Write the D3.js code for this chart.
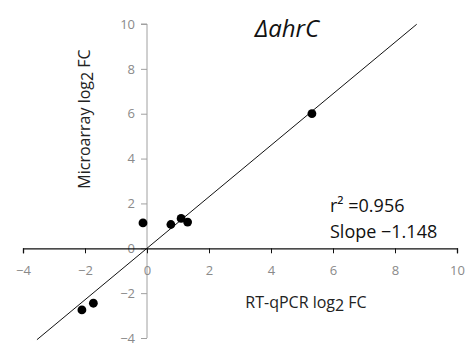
<!DOCTYPE html>
<html><head><meta charset="utf-8">
<script src="https://cdn.jsdelivr.net/npm/d3@7"></script>
<style>body{margin:0;background:#fff}</style>
</head><body>
<svg id="c" width="474" height="350"></svg>
<script>
const pointsX = [5.32, -0.13, 0.77, 1.10, 1.31, -2.10, -1.73];
const pointsY = [6.00, 1.13, 1.06, 1.33, 1.17, -2.75, -2.45];
const xTicks = [-4, -2, 0, 2, 4, 6, 8, 10];
const yTicks = [-4, -2, 0, 2, 4, 6, 8, 10];
const fitSlope = 1.148, fitIntercept = 0.0;
const fitRange = [-3.55, 8.7];
const titleText = "ΔahrC";
const statLines = ["r² =0.956", "Slope −1.148"];

const svg = d3.select("#c");
const x = d3.scaleLinear().domain([-4, 10]).range([23, 457]);
const y = d3.scaleLinear().domain([-4, 10]).range([338, 24]);
const font = "'Open Sans', 'Noto Sans', sans-serif";

// y axis (grey) at x=0
const yAx = svg.append("g").attr("transform", `translate(${x(0)},0)`)
  .call(d3.axisLeft(y).tickValues(yTicks).tickSize(6).tickPadding(6));
yAx.select(".domain").attr("stroke", "#a0a0a0").attr("d", `M-6,${y(10)}H0V${y(-4)}`);
yAx.selectAll(".tick line").attr("stroke", "#a0a0a0");
yAx.selectAll(".tick text").attr("fill", "#8a8a8a").attr("font-size", 13).attr("font-family", font);

// x axis (black) at y=0
const xAx = svg.append("g").attr("transform", `translate(0,${y(0)})`)
  .call(d3.axisBottom(x).tickValues(xTicks).tickSize(5).tickPadding(12).tickSizeOuter(5));
xAx.select(".domain").attr("stroke", "#111").attr("stroke-width", 1.3);
xAx.selectAll(".tick line").attr("stroke", "#111");
xAx.selectAll(".tick text").attr("fill", "#8a8a8a").attr("font-size", 13).attr("font-family", font);

// fit line
svg.append("line")
  .attr("x1", x(fitRange[0])).attr("y1", y(fitSlope * fitRange[0] + fitIntercept))
  .attr("x2", x(fitRange[1])).attr("y2", y(fitSlope * fitRange[1] + fitIntercept))
  .attr("stroke", "#111").attr("stroke-width", 1);

// points
svg.selectAll("circle.p").data(pointsX.map((v, i) => [v, pointsY[i]])).enter()
  .append("circle").attr("cx", d => x(d[0])).attr("cy", d => y(d[1])).attr("r", 4.4).attr("fill", "#000");

// title
svg.append("text").attr("x", 287).attr("y", 37).attr("text-anchor", "middle")
  .attr("font-size", 24).attr("font-style", "italic").attr("font-family", font).attr("fill", "#111").text(titleText);

// stats
statLines.forEach((t, i) => {
  svg.append("text").attr("x", 330).attr("y", 212 + i * 26)
    .attr("font-size", 18).attr("font-family", font).attr("fill", "#111").text(t);
});

// axis labels
svg.append("text").attr("x", 306).attr("y", 308).attr("text-anchor", "middle")
  .attr("font-size", 16).attr("font-family", font).attr("fill", "#222")
  .html('RT-qPCR log<tspan dy="3">2</tspan><tspan dy="-3"> FC</tspan>');
svg.append("text").attr("transform", "translate(90,119) rotate(-90)").attr("text-anchor", "middle")
  .attr("font-size", 16).attr("font-family", font).attr("fill", "#222")
  .html('Microarray log<tspan dy="3">2</tspan><tspan dy="-3"> FC</tspan>');
</script>
</body></html>
